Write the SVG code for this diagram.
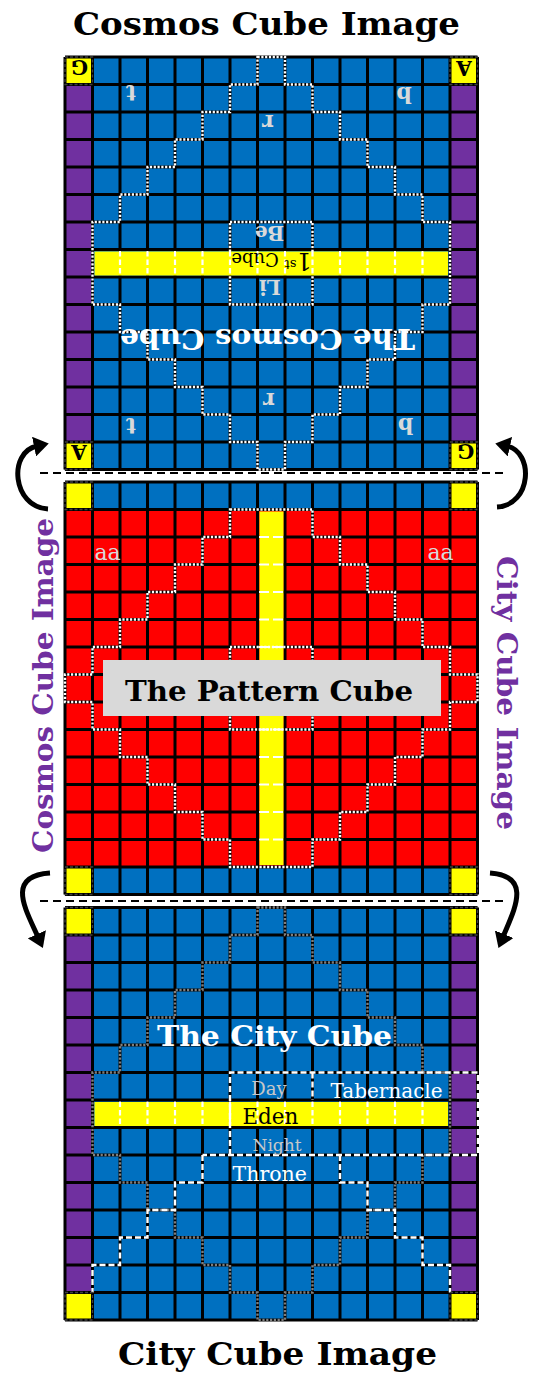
<svg xmlns="http://www.w3.org/2000/svg" xmlns:xlink="http://www.w3.org/1999/xlink" width="533" height="1373" viewBox="0 0 533 1373">
<style>
.blue{fill:#0070C0}.purple{fill:#7030A0}.red{fill:#FF0000}.yellow{fill:#FFFF00}
.dotw{fill:none;stroke:#fff;stroke-width:2.4;stroke-dasharray:2.2 1.6}
.dotg{fill:none;stroke:#7f7f7f;stroke-width:2.4;stroke-dasharray:2.2 1.6}
.dashw{fill:none;stroke:#fff;stroke-width:2.4;stroke-dasharray:6 3}
.corner{fill:none;stroke:#404040;stroke-width:1.3;stroke-dasharray:3 2}
.serif{font-family:"DejaVu Serif","Liberation Serif",serif}
.bold{font-weight:bold}
.inv{font-family:"DejaVu Serif","Liberation Serif",serif;font-weight:bold;fill:#D9D9D9;text-anchor:middle}
.mid{text-anchor:middle}
.conn{fill:none;stroke:#000;stroke-width:5}
.sep{fill:none;stroke:#000;stroke-width:2;stroke-dasharray:8 5}
</style>
<defs>
<path id="grid" fill="none" stroke="#000" stroke-width="3" d="M0 0V412.5M27.5 0V412.5M55 0V412.5M82.5 0V412.5M110 0V412.5M137.5 0V412.5M165 0V412.5M192.5 0V412.5M220 0V412.5M247.5 0V412.5M275 0V412.5M302.5 0V412.5M330 0V412.5M357.5 0V412.5M385 0V412.5M412.5 0V412.5M0 0H412.5M0 27.5H412.5M0 55H412.5M0 82.5H412.5M0 110H412.5M0 137.5H412.5M0 165H412.5M0 192.5H412.5M0 220H412.5M0 247.5H412.5M0 275H412.5M0 302.5H412.5M0 330H412.5M0 357.5H412.5M0 385H412.5M0 412.5H412.5"/>
<path id="dia" d="M192.5,0H220V27.5H247.5V55H275V82.5H302.5V110H330V137.5H357.5V165H385V247.5H357.5V275H330V302.5H302.5V330H275V357.5H247.5V385H220V412.5H192.5V385H165V357.5H137.5V330H110V302.5H82.5V275H55V247.5H27.5V165H55V137.5H82.5V110H110V82.5H137.5V55H165V27.5H192.5Z"/>
<path id="pdia" d="M165,27.5H247.5V55H275V82.5H302.5V110H330V137.5H357.5V165H385V192.5H412.5V220H385V247.5H357.5V275H330V302.5H302.5V330H275V357.5H247.5V385H165V357.5H137.5V330H110V302.5H82.5V275H55V247.5H27.5V220H0V192.5H27.5V165H55V137.5H82.5V110H110V82.5H137.5V55H165Z"/>
<path id="vdash" fill="none" stroke="#fff" stroke-width="2.2" stroke-dasharray="5.5 3" d="M55 194V218.5M82.5 194V218.5M110 194V218.5M137.5 194V218.5M165 194V218.5M192.5 194V218.5M220 194V218.5M247.5 194V218.5M275 194V218.5M302.5 194V218.5M330 194V218.5M357.5 194V218.5"/>
<path id="hdash" fill="none" stroke="#fff" stroke-width="2.2" stroke-dasharray="10 4" d="M194 55H218.5M194 82.5H218.5M194 110H218.5M194 137.5H218.5M194 165H218.5M194 192.5H218.5M194 220H218.5M194 247.5H218.5M194 275H218.5M194 302.5H218.5M194 330H218.5M194 357.5H218.5"/>
<g id="corners">
<rect x="0" y="0" width="27.5" height="27.5"/><rect x="385" y="0" width="27.5" height="27.5"/><rect x="0" y="385" width="27.5" height="27.5"/><rect x="385" y="385" width="27.5" height="27.5"/>
</g>
<marker id="arr" viewBox="0 0 15 20" refX="3" refY="10" markerWidth="15" markerHeight="20" markerUnits="userSpaceOnUse" orient="auto"><path d="M0,0L15,10L0,20Z" fill="#000"/></marker>
</defs>
<rect width="533" height="1373" fill="#fff"/>

<text x="266.5" y="35" class="serif bold mid" font-size="31" textLength="387" lengthAdjust="spacingAndGlyphs" fill="#000">Cosmos Cube Image</text>
<text x="277.5" y="1365" class="serif bold mid" font-size="31" textLength="319" lengthAdjust="spacingAndGlyphs" fill="#000">City Cube Image</text>
<text transform="translate(53,685.5) rotate(-90)" class="serif bold mid" font-size="27" textLength="335" lengthAdjust="spacingAndGlyphs" fill="#7030A0">Cosmos Cube Image</text>
<text transform="translate(497,693) rotate(90)" class="serif bold mid" font-size="27" textLength="274" lengthAdjust="spacingAndGlyphs" fill="#7030A0">City Cube Image</text>

<g id="cosmos-cube" transform="translate(65,57)">
<rect class="blue" x="27.5" y="0" width="357.5" height="412.5"/>
<rect class="purple" x="0" y="27.5" width="27.5" height="357.5"/>
<rect class="purple" x="385" y="27.5" width="27.5" height="357.5"/>
<use xlink:href="#corners" class="yellow"/>
<use xlink:href="#grid"/>
<use xlink:href="#dia" class="dotw"/>
<rect class="dotw" x="165" y="165" width="82.5" height="82.5"/>
<rect class="yellow" x="29.5" y="194.5" width="353.5" height="24"/>
<use xlink:href="#vdash"/>
<use xlink:href="#corners" class="corner"/>
<g class="inv">
<text x="14.5" y="3" font-size="20" fill="#000" transform="rotate(180 14.5 3)">G</text>
<text x="399" y="3.7" font-size="20" fill="#000" transform="rotate(180 399 3.7)">A</text>
<text x="14" y="388" font-size="20" fill="#000" transform="rotate(180 14 388)">A</text>
<text x="400.8" y="387" font-size="20" fill="#000" transform="rotate(180 400.8 387)">G</text>
<text x="66" y="28" font-size="22" transform="rotate(180 66 28)">t</text>
<text x="66" y="361" font-size="22" transform="rotate(180 66 361)">t</text>
<text x="339" y="29.7" font-size="22" transform="rotate(180 339 29.7)">b</text>
<text x="340.5" y="361.3" font-size="22" transform="rotate(180 340.5 361.3)">b</text>
<text x="203" y="58" font-size="22" transform="rotate(180 203 58)">r</text>
<text x="204" y="336" font-size="22" transform="rotate(180 204 336)">r</text>
<text x="204.5" y="169" font-size="20" transform="rotate(180 204.5 169)">Be</text>
<text x="205" y="223" font-size="20" transform="rotate(180 205 223)">Li</text>
<text x="202.5" y="272" font-size="28" fill="#fff" textLength="295" lengthAdjust="spacingAndGlyphs" transform="rotate(180 202.5 272)">The Cosmos Cube</text>
</g>
<text x="206.5" y="196" class="serif mid" fill="#000" transform="rotate(180 206.5 196)"><tspan font-size="24">1</tspan><tspan font-size="13" dy="-7">st</tspan><tspan font-size="18" dy="7"> Cube</tspan></text>
</g>

<g id="pattern-cube" transform="translate(65,482)">
<rect class="red" x="0" y="27.5" width="412.5" height="357.5"/>
<rect class="blue" x="27.5" y="0" width="357.5" height="27.5"/>
<rect class="blue" x="27.5" y="385" width="357.5" height="27.5"/>
<use xlink:href="#corners" class="yellow"/>
<use xlink:href="#grid"/>
<use xlink:href="#pdia" class="dotw"/>
<rect class="yellow" x="194.5" y="29.5" width="24" height="353.5"/>
<use xlink:href="#hdash"/>
<rect class="dotw" x="165" y="165" width="82.5" height="82.5"/>
<use xlink:href="#corners" class="corner"/>
<text x="42.5" y="78" class="serif mid" font-size="22" fill="#D9D9D9">aa</text>
<text x="375.5" y="78" class="serif mid" font-size="22" fill="#D9D9D9">aa</text>
<rect x="38" y="178" width="338" height="56" fill="#D9D9D9"/>
<text x="204" y="219" class="serif bold mid" font-size="28" fill="#000" textLength="288" lengthAdjust="spacingAndGlyphs">The Pattern Cube</text>
</g>

<g id="city-cube" transform="translate(65,907.5)">
<rect class="blue" x="27.5" y="0" width="357.5" height="412.5"/>
<rect class="purple" x="0" y="27.5" width="27.5" height="357.5"/>
<rect class="purple" x="385" y="27.5" width="27.5" height="357.5"/>
<use xlink:href="#corners" class="yellow"/>
<use xlink:href="#grid"/>
<use xlink:href="#dia" class="dotg"/>
<rect class="yellow" x="29.5" y="194.5" width="353.5" height="24"/>
<use xlink:href="#vdash"/>
<path class="dashw" d="M165,247.5V165H413V247.5H137.5M247.5,165V192.5"/>
<path class="dashw" d="M137.5,247.5V275H110V302.5H82.5V330H55V357.5H27.5V385"/>
<path class="dashw" d="M275,247.5V275H302.5V302.5H330V330H357.5V357.5H385V385"/>
<use xlink:href="#corners" class="corner"/>
<text x="209.5" y="138.5" class="serif bold mid" font-size="27" fill="#fff" textLength="235" lengthAdjust="spacingAndGlyphs">The City Cube</text>
<text x="204" y="187.5" class="serif mid" font-size="18" fill="#C8C8C8">Day</text>
<text x="321.5" y="190.5" class="serif mid" font-size="20" fill="#fff">Tabernacle</text>
<text x="205.4" y="216.5" class="serif mid" font-size="21.5" fill="#000">Eden</text>
<text x="212" y="243.2" class="serif mid" font-size="17" fill="#C8C8C8">Night</text>
<text x="204.7" y="273.2" class="serif mid" font-size="20.5" fill="#fff">Throne</text>
</g>

<g id="connectors">
<path class="sep" d="M40,473H506"/>
<path class="sep" d="M40,901H506"/>
<path class="conn" marker-end="url(#arr)" d="M48,509C12,507 8,452 37,446"/>
<path class="conn" marker-end="url(#arr)" d="M497,507C532,505 534,452 507,446"/>
<path class="conn" marker-end="url(#arr)" d="M50,873C5,876 26,910 38,937"/>
<path class="conn" marker-end="url(#arr)" d="M490,873C533,876 514,910 503,937"/>
</g>
</svg>
